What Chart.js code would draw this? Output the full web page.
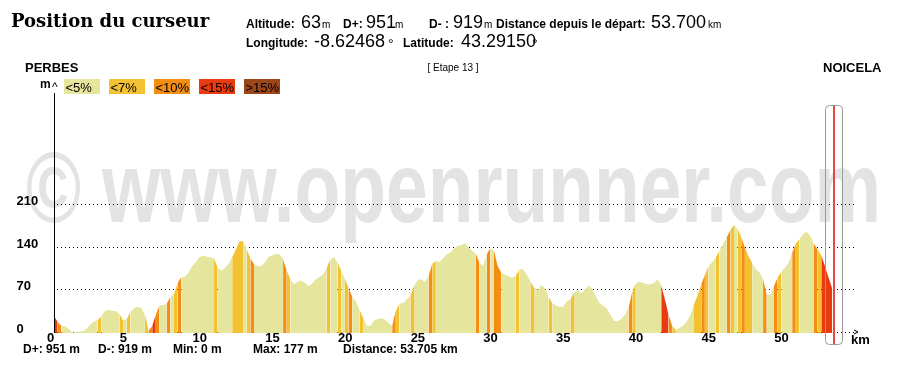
<!DOCTYPE html>
<html lang="fr">
<head>
<meta charset="utf-8">
<title>Profil altimétrique - Etape 13</title>
<script src="https://cdn.jsdelivr.net/npm/chart.js@4.4.1/dist/chart.umd.min.js"></script>
<style>
  html, body { margin: 0; padding: 0; background: #fff; }
  #wrap { position: relative; width: 903px; height: 377px; }
</style>
</head>
<body>
<div id="wrap"><canvas id="profile" width="903" height="377"></canvas></div>
<script>
/**
 * Profil altimétrique (openrunner) - Etape 13, Perbes -> Noicela
 * Elevation area coloured by gradient class, drawn with Chart.js
 */

const STEP_KM = 0.25; // sampling step of the profile

// elevation (m) every 0.25 km, from km 0 to km 53.5
const elevation = [
    28, 18, 12, 11, 7, 1, 1, 2, 3, 7, 14, 19, 21, 27, 36, 38, 36, 36, 31, 21,
    23, 35, 40, 43, 41, 30, 4, 11, 30, 45, 46, 48, 59, 64, 82, 92, 92, 99, 110, 116,
    124, 127, 125, 124, 122, 107, 102, 107, 113, 124, 137, 150, 151, 137, 122, 113, 110, 110, 116, 125,
    127, 130, 129, 121, 102, 88, 80, 84, 86, 82, 77, 81, 88, 92, 96, 107, 121, 124, 115, 102,
    89, 74, 60, 52, 38, 25, 12, 12, 20, 23, 24, 22, 16, 12, 36, 48, 49, 55, 62, 77,
    87, 88, 84, 93, 113, 118, 116, 122, 129, 132, 138, 143, 144, 147, 140, 135, 130, 115, 110, 129,
    139, 135, 110, 99, 96, 93, 91, 93, 105, 104, 96, 85, 74, 71, 78, 74, 59, 49, 45, 43,
    43, 52, 55, 66, 70, 65, 71, 78, 73, 60, 49, 45, 40, 30, 20, 19, 23, 30, 41, 67,
    81, 84, 82, 80, 80, 82, 88, 78, 55, 30, 12, 5, 8, 12, 19, 29, 47, 62, 80, 95,
    110, 116, 124, 135, 146, 157, 169, 177, 171, 157, 140, 126, 115, 105, 99, 88, 63, 62, 77, 91,
    100, 107, 115, 132, 146, 154, 162, 166, 159, 146, 137, 127, 110, 91, 73
];

// gradient class of each sample (0: <5%, 1: <7%, 2: <10%, 3: <15%, 4: >15%)
const gradeClass = [
    3, 2, 0, 0, 0, 0, 0, 0, 0, 0, 0, 0, 1, 0, 0, 0, 0, 0, 1, 0,
    1, 0, 0, 0, 0, 1, 2, 3, 2, 0, 0, 2, 0, 1, 2, 0, 0, 0, 0, 0,
    0, 0, 0, 0, 1, 0, 0, 0, 0, 1, 1, 1, 0, 1, 2, 0, 0, 0, 0, 0,
    0, 0, 0, 2, 1, 0, 0, 0, 0, 0, 0, 0, 0, 0, 0, 1, 0, 0, 1, 0,
    1, 2, 0, 0, 1, 0, 0, 0, 0, 0, 0, 0, 0, 2, 1, 0, 0, 0, 1, 0,
    0, 0, 0, 2, 1, 0, 0, 0, 0, 0, 0, 0, 0, 0, 0, 0, 2, 0, 0, 2,
    0, 2, 2, 0, 0, 0, 0, 1, 0, 0, 0, 1, 0, 0, 0, 0, 1, 0, 0, 0,
    0, 0, 1, 0, 0, 0, 0, 0, 0, 0, 0, 0, 0, 0, 0, 0, 0, 0, 2, 1,
    0, 0, 0, 0, 0, 0, 0, 3, 3, 2, 1, 0, 0, 0, 0, 0, 1, 1, 2, 1,
    0, 0, 1, 0, 0, 2, 1, 0, 1, 2, 1, 1, 0, 0, 0, 2, 0, 0, 2, 1,
    0, 0, 0, 2, 1, 0, 0, 0, 0, 2, 1, 3, 3, 3, 2
];

const gradeLabels = ['<5%', '<7%', '<10%', '<15%', '>15%'];
const gradeColors = ['#e5e59d', '#f3c232', '#f38d13', '#ea3a10', '#9c461a'];

const xTicks = [0, 5, 10, 15, 20, 25, 30, 35, 40, 45, 50];
const yTicks = [0, 70, 140, 210];

const cursorInfo = { altitude: '63', dPlus: '951', dMinus: '919', distance: '53.700',
                     longitude: '-8.62468', latitude: '43.29150' };
const CURSOR_KM = 53.7;
const footerStats = ['D+: 951 m', 'D-: 919 m', 'Min: 0 m', 'Max: 177 m', 'Distance: 53.705 km'];
const START_NAME = 'PERBES';
const END_NAME = 'NOICELA';
const STAGE = '[ Etape 13 ]';
const WATERMARK = '\u00a9 www.openrunner.com';

const SANS = '"Liberation Sans", Arial, sans-serif';

function put(ctx, text, x, y, font, color, align) {
    ctx.font = font;
    ctx.fillStyle = color || '#000';
    ctx.textAlign = align || 'left';
    ctx.textBaseline = 'alphabetic';
    ctx.fillText(text, x, y);
}

const profileDecor = {
    id: 'profileDecor',
    beforeDraw(chart) {
        const ctx = chart.ctx;
        ctx.save();
        ctx.fillStyle = '#fff';
        ctx.fillRect(0, 0, chart.width, chart.height);
        // watermark, stretched to its box
        ctx.font = 'bold 100px ' + SANS;
        const w = ctx.measureText(WATERMARK).width;
        ctx.translate(26, 222);
        ctx.scale(855 / w, 1);
        ctx.fillStyle = '#e3e3e3';
        ctx.fillText(WATERMARK, 0, 0);
        ctx.restore();
    },
    beforeDatasetsDraw(chart) {
        const { ctx, chartArea, scales: { y } } = chart;
        ctx.save();
        ctx.strokeStyle = '#000';
        ctx.lineWidth = 1;
        ctx.setLineDash([1, 3]);
        yTicks.forEach(v => {
            const py = Math.floor(y.getPixelForValue(v) - 0.5) + 0.5;
            ctx.beginPath();
            ctx.moveTo(chartArea.left + 3, py);
            ctx.lineTo(chartArea.right, py);
            ctx.stroke();
        });
        ctx.restore();
    },
    afterDraw(chart) {
        const { ctx, chartArea, scales: { x, y } } = chart;
        ctx.save();

        // y axis line
        ctx.fillStyle = '#000';
        ctx.fillRect(chartArea.left, 93, 1, chartArea.bottom - 93);
        put(ctx, 'm', 40, 88, 'bold 12px ' + SANS);
        put(ctx, '^', 52, 91, '12px ' + SANS);

        // tick labels
        yTicks.forEach(v => {
            const row = Math.floor(y.getPixelForValue(v) - 0.5);
            put(ctx, String(v), 16.5, row + 1, 'bold 13px ' + SANS);
        });
        xTicks.forEach(v => {
            put(ctx, String(v), x.getPixelForValue(v) - 7, 342, 'bold 13px ' + SANS);
        });
        put(ctx, 'km', 851, 344, 'bold 13px ' + SANS);
        ctx.strokeStyle = '#000';
        ctx.lineWidth = 1;
        ctx.beginPath();
        ctx.moveTo(854, 330);
        ctx.lineTo(858, 332);
        ctx.lineTo(854, 334);
        ctx.stroke();

        // header
        put(ctx, 'Position du curseur', 11, 27, 'bold 18px "DejaVu Serif", serif');
        const lab = 'bold 12px ' + SANS, num = '18px ' + SANS, unit = '10px ' + SANS;
        put(ctx, 'Altitude:', 246, 28, lab);
        put(ctx, cursorInfo.altitude, 301, 28, num);
        put(ctx, 'm', 322, 28, unit);
        put(ctx, 'D+:', 343, 28, lab);
        put(ctx, cursorInfo.dPlus, 366, 28, num);
        put(ctx, 'm', 395, 28, unit);
        put(ctx, 'D- :', 429, 28, lab);
        put(ctx, cursorInfo.dMinus, 453, 28, num);
        put(ctx, 'm', 484, 28, unit);
        put(ctx, 'Distance depuis le départ:', 496, 28, lab);
        put(ctx, cursorInfo.distance, 651, 28, num);
        put(ctx, 'km', 708, 28, unit);
        put(ctx, 'Longitude:', 246, 47, lab);
        put(ctx, cursorInfo.longitude, 314, 47, num);
        put(ctx, '\u00b0', 388, 49, '14px ' + SANS);
        put(ctx, 'Latitude:', 403, 47, lab);
        put(ctx, cursorInfo.latitude, 461, 47, num);
        put(ctx, '\u00b0', 532, 49, '14px ' + SANS);

        // stage names
        put(ctx, START_NAME, 25, 72, 'bold 13px ' + SANS);
        put(ctx, END_NAME, 823, 72, 'bold 13px ' + SANS);
        put(ctx, STAGE, 453, 71, '10px ' + SANS, '#000', 'center');

        // gradient legend
        gradeLabels.forEach((label, i) => {
            const bx = 64 + i * 45;
            ctx.fillStyle = gradeColors[i];
            ctx.fillRect(bx, 79, 36, 15);
            put(ctx, label, bx + 1.5, 92, '13px ' + SANS);
        });

        // footer stats
        const footX = [23, 98, 173, 253, 343];
        footerStats.forEach((s, i) => put(ctx, s, footX[i], 353, 'bold 12px ' + SANS));

        // cursor
        const cx = Math.round(x.getPixelForValue(CURSOR_KM)) - 1;
        ctx.fillStyle = '#e8483b';
        ctx.fillRect(cx - 1, 106, 2, 239);
        ctx.strokeStyle = '#9a9a9a';
        ctx.beginPath();
        ctx.roundRect(cx - 8.5, 105.5, 17, 239, 4);
        ctx.stroke();

        ctx.restore();
    }
};

const points = elevation.map((e, i) => ({ x: i * STEP_KM, y: e }));

new Chart(document.getElementById('profile'), {
    type: 'line',
    data: {
        datasets: [{
            label: 'Altitude',
            data: points,
            backgroundColor: gradeColors[0],
            borderColor: 'rgba(0,0,0,0)',
            borderWidth: 0,
            pointRadius: 0,
            tension: 0,
            fill: 'origin',
            segment: {
                backgroundColor: c => gradeColors[gradeClass[c.p0DataIndex]]
            }
        }]
    },
    options: {
        responsive: false,
        animation: false,
        layout: { padding: { left: 54, right: 49, top: 89, bottom: 44 } },
        plugins: {
            legend: { display: false },
            tooltip: { enabled: false }
        },
        scales: {
            x: { type: 'linear', min: 0, max: 55, display: false },
            y: { min: 0, max: 400, display: false }
        }
    },
    plugins: [profileDecor]
});
</script>
</body>
</html>
